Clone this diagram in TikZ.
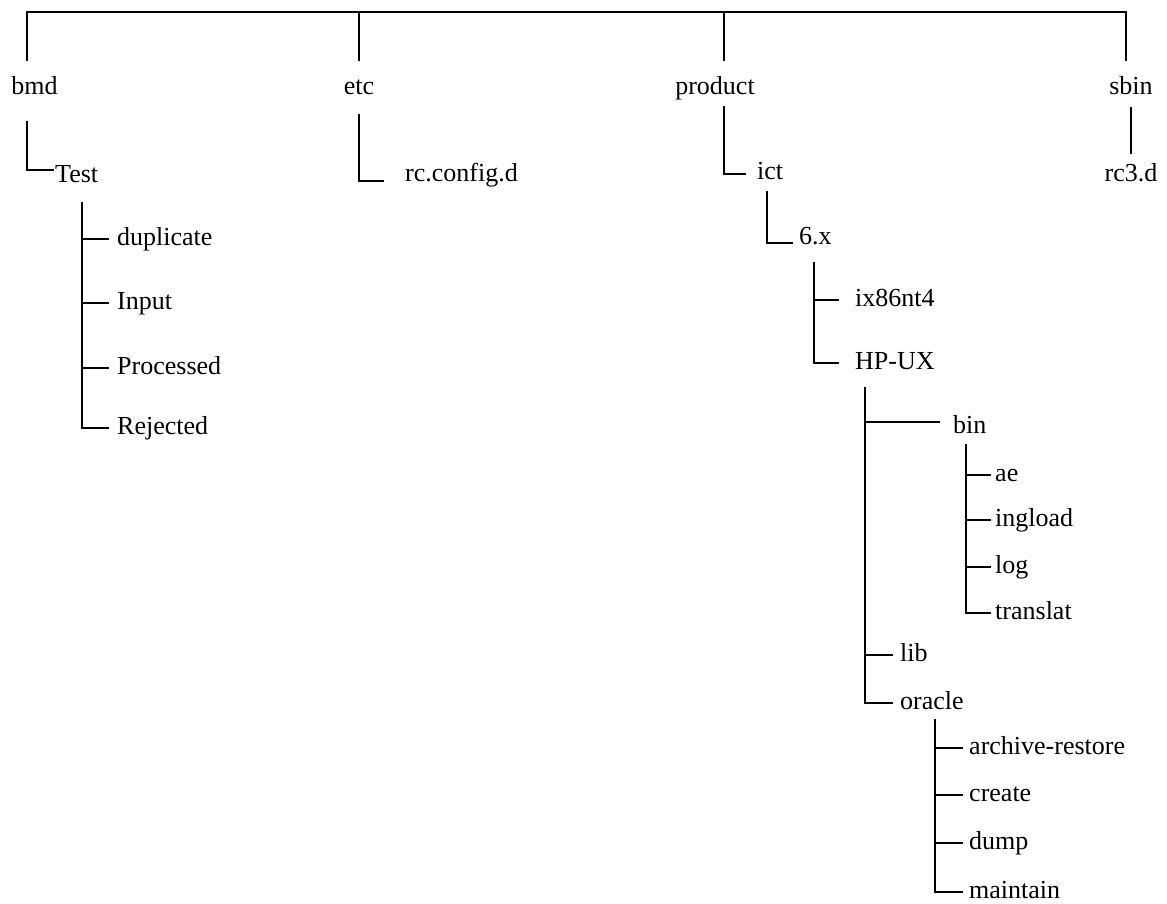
\documentclass[tikz,border=0pt]{standalone}
\usepackage{fontspec}
\setmainfont{Liberation Serif}
\usepackage{tikz}
\tikzset{
    tree/.style={line width=1.8pt,line cap=rect},
    topdir/.style={anchor=base,inner sep=0pt,font=\fontsize{26}{30}\selectfont},
    folder/.style={anchor=west,inner xsep=#1,inner ysep=0pt,text height=18pt,text depth=6pt,font=\fontsize{26}{30}\selectfont},
    folder/.default=8pt
}

\begin{document}
\begin{tikzpicture}[x=1pt,y=-1pt]
    \useasboundingbox (0,0) rectangle (1167,904);
    % top level
    \node[topdir] (bmd) at (34.5,95) {bmd};
    \node[topdir] (etc) at (359,95) {etc};
    \node[topdir] (product) at (715,95) {product};
    \node[topdir] (sbin) at (1131,95) {sbin};
    \coordinate (rootL) at (27,12);
    \coordinate (rootR) at (1126,12);
    \foreach \x/\name in {27/bmd,359/etc,724/product,1126/sbin}
    {
        \coordinate (\name drop) at (\x,60);
    }
    \draw[tree] (bmddrop)--(rootL)--(rootR)--(sbindrop);
    \draw[tree] (etcdrop)--(etcdrop |- rootL);
    \draw[tree] (productdrop)--(productdrop |- rootL);

    % bmd
    \coordinate (bmdT) at (27,122);
    \node[folder=2pt,text height=26pt,text depth=0pt] (test) at (53,170) {Test};
    \draw[tree] (bmdT) |- (test.west);
    \coordinate (testT) at (82,203);
    \foreach \y/\name/\lab in {239/dup/duplicate,303/inp/Input,368/proc/Processed,428/rej/Rejected}
    {
        \node[folder=9pt] (\name) at (108,\y) {\lab};
        \draw[tree] (testT) |- (\name.west);
    }

    % etc
    \coordinate (etcT) at (359,115);
    \node[folder=22pt,text height=14pt,text depth=12pt] (rcconf) at (383,181) {rc.config.d};
    \draw[tree] (etcT) |- (rcconf.west);

    % sbin
    \node[topdir] (rcthree) at (1131,182) {rc3.d};
    \draw[tree] ([yshift=-12pt]sbin.south)--([yshift=11pt]rcthree.north);

    % product
    \coordinate (productT) at (724,107);
    \node[folder=12pt] (ict) at (745,174) {ict};
    \draw[tree] (productT) |- (ict.west);
    \coordinate (ictT) at (767,192);
    \node[folder=7pt,text height=14pt,text depth=12pt] (six) at (792,243) {6.x};
    \draw[tree] (ictT) |- (six.west);
    \coordinate (sixT) at (814,263);
    \foreach \y/\name/\lab in {300/ixnt/ix86nt4,363/hpux/HP-UX}
    {
        \node[folder=17pt] (\name) at (838,\y) {\lab};
        \draw[tree] (sixT) |- (\name.west);
    }

    % HP-UX
    \coordinate (hpuxT) at (865,388);
    \node[folder=14pt,text height=22pt,text depth=0pt] (bin) at (939,422) {bin};
    \node[folder] (lib) at (892,655) {lib};
    \node[folder] (oracle) at (892,703) {oracle};
    \foreach \name in {bin,lib,oracle}
    {
        \draw[tree] (hpuxT) |- (\name.west);
    }
    \coordinate (binT) at (966,445);
    \foreach \y/\name/\lab in {475/ae/ae,520/ingload/ingload,567/log/log,613/translat/translat}
    {
        \node[folder=5pt] (\name) at (990,\y) {\lab};
        \draw[tree] (binT) |- (\name.west);
    }
    \coordinate (oracleT) at (935,720);
    \foreach \y/\name/\lab in {748/archive/archive-restore,795/create/create,843/dump/dump,892/maintain/maintain}
    {
        \node[folder=7pt] (\name) at (962,\y) {\lab};
        \draw[tree] (oracleT) |- (\name.west);
    }
\end{tikzpicture}
\end{document}
